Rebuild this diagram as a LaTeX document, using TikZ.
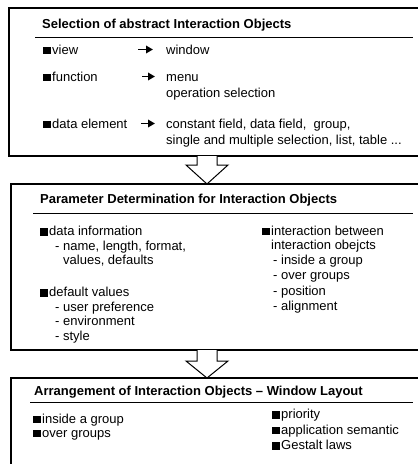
\documentclass[tikz,border=0pt]{standalone}
\usepackage{fontspec}
\setmainfont{Liberation Sans}
\usetikzlibrary{arrows.meta}

\newcommand{\sqb}{\rule{7.5pt}{7.5pt}\hspace{1.5pt}}

\begin{document}
\begin{tikzpicture}[x=1pt,y=-1pt,
    frame/.style={line width=1.6pt},
    titleline/.style={line width=0.9pt},
    title/.style={anchor=base west, inner sep=0pt, font=\bfseries\fontsize{13}{15}\selectfont},
    txt/.style={anchor=base west, inner sep=0pt, font=\fontsize{13}{15}\selectfont},
    maps/.style={-{Triangle[length=7pt,width=7.5pt]}, line width=1.7pt},
    hollow/.style={line width=1pt, fill=white}]
    \useasboundingbox (0,0) rectangle (418,464);
    \clip (0,0) rectangle (418,464);

    % the three frames (open to the right)
    \draw[frame] (430,8) -- (9,8) -- (9,156) -- (430,156);
    \draw[frame] (430,184) -- (11,184) -- (11,350) -- (430,350);
    \draw[frame] (430,378) -- (11,378) -- (11,480);

    % the titles
    \node[title] (t1) at (42,28) {Selection of abstract Interaction Objects};
    \node[title] (t2) at (40,203) {Parameter Determination for Interaction Objects};
    \node[title] (t3) at (34,395) {Arrangement of Interaction Objects -- Window Layout};
    \draw[titleline] (35,37) -- (413,37);
    \draw[titleline] (33,213) -- (413,213);
    \draw[titleline] (30,402) -- (413,402);

    % first frame: abstract objects and what they become
    \node[txt] (view) at (43,54) {\sqb view};
    \node[txt] (window) at (166,54) {window};
    \node[txt] (func) at (43,81) {\sqb function};
    \node[txt] (menu) at (166,81) {menu};
    \node[txt] (opsel) at (166,97) {operation selection};
    \node[txt] (data) at (43,128) {\sqb data element};
    \node[txt] (const) at (166,128) {constant field, data field,\ \ group,};
    \node[txt] (single) at (166,144) {single and multiple selection, list, table ...};

    \coordinate (m1) at (138,49.5);
    \coordinate (m2) at (142,76.5);
    \coordinate (m3) at (141,123.5);
    \draw[maps] (m1) -- ++(15,0) coordinate (m1e);
    \draw[maps] (m2) -- ++(13,0) coordinate (m2e);
    \draw[maps] (m3) -- ++(14,0) coordinate (m3e);

    % second frame: parameters
    \node[txt] (dinfo) at (40,235.5) {\sqb data information};
    \node[txt] (dinfo1) at (55,250) {- name, length, format,};
    \node[txt] (dinfo2) at (63,264.5) {values, defaults};
    \node[txt] (defv) at (40,296.5) {\sqb default values};
    \node[txt] (defv1) at (55,311) {- user preference};
    \node[txt] (defv2) at (55,325.5) {- environment};
    \node[txt] (defv3) at (55,340) {- style};
    \node[txt] (inter) at (262,235) {\sqb interaction between};
    \node[txt] (inter0) at (271,249) {interaction obejcts};
    \node[txt] (inter1) at (273,264) {- inside a group};
    \node[txt] (inter2) at (273,279.5) {- over groups};
    \node[txt] (inter3) at (273,295) {- position};
    \node[txt] (inter4) at (273,310.5) {- alignment};

    % third frame: layout
    \node[txt] (inside) at (33,423) {\sqb inside a group};
    \node[txt] (over) at (33,437) {\sqb over groups};
    \node[txt] (prio) at (272,418.5) {\sqb priority};
    \node[txt] (appsem) at (272,434) {\sqb application semantic};
    \node[txt] (gestalt) at (272,449.5) {\sqb Gestalt laws};

    % the hollow arrows between the frames
    \coordinate (f1) at (207,156);
    \coordinate (f2) at (207,184);
    \coordinate (f3) at (207,350);
    \coordinate (f4) at (207,378);
    \draw[hollow] (f1) ++(-10,0) -- ++(0,9) -- ++(-11,0) -- (f2) -- ++(21,-19) -- ++(-11,0) -- ++(0,-9);
    \draw[hollow] (f3) ++(-10,0) -- ++(0,11) -- ++(-11,0) -- (f4) -- ++(21,-17) -- ++(-11,0) -- ++(0,-11);
\end{tikzpicture}
\end{document}
